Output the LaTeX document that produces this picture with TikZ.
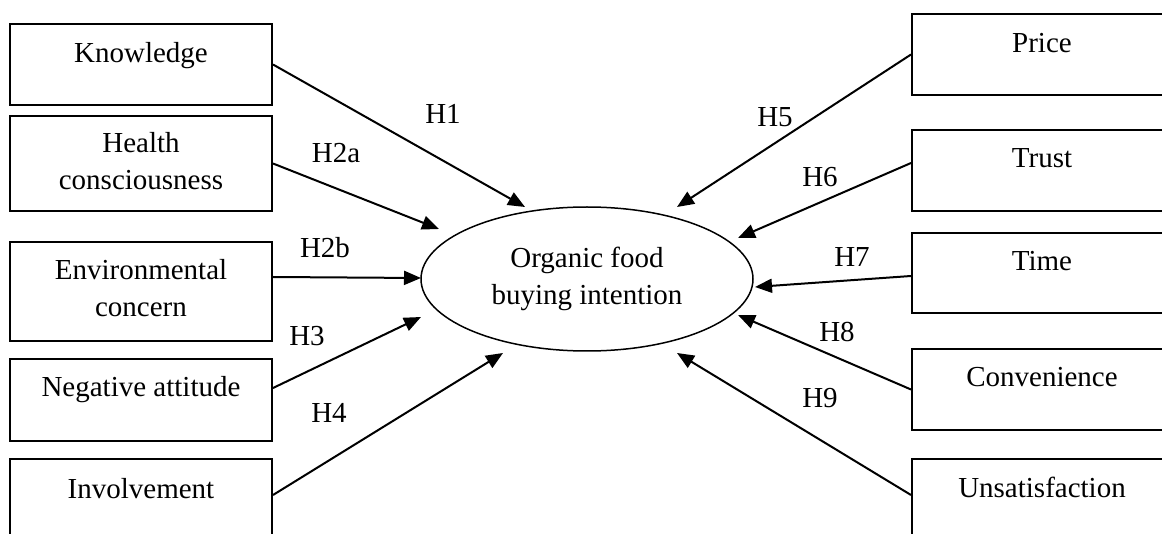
\documentclass[tikz,border=0pt]{standalone}
\usepackage{fontspec}
\setmainfont{Liberation Serif}
\usetikzlibrary{arrows.meta,shapes.geometric,calc}
\begin{document}
\begin{tikzpicture}[x=1pt,y=-1pt,
  every node/.style={font=\fontsize{29pt}{37pt}\selectfont},
  box/.style={draw, line width=2pt, minimum width=262pt, inner sep=0pt},
  txt/.style={anchor=base, inner sep=0pt},
  arr/.style={line width=2pt, -{Triangle[length=17pt,width=14pt]}},
]
\useasboundingbox (0,0) rectangle (1162,534);
\clip (0,0) rectangle (1162,534);

% left boxes
\node[box, minimum height=81pt] (kn) at (141,64.5) {};
\node[box, minimum height=95pt] (hc) at (141,163.5) {};
\node[box, minimum height=99pt] (ec) at (141,291.5) {};
\node[box, minimum height=82pt] (na) at (141,400) {};
\node[box, minimum height=86pt] (iv) at (141,502) {};
% right boxes
\node[box, minimum height=81pt] (pr) at (1043,54.5) {};
\node[box, minimum height=81pt] (tr) at (1043,170.5) {};
\node[box, minimum height=80pt] (ti) at (1043,273) {};
\node[box, minimum height=81pt] (cv) at (1043,389.5) {};
\node[box, minimum height=86pt] (us) at (1043,502) {};

% box texts
\node[txt] (knt) at (141,63) {Knowledge};
\node[txt] (hct1) at (141,153) {Health};
\node[txt] (hct2) at (141,190) {consciousness};
\node[txt] (ect1) at (141,280) {Environmental};
\node[txt] (ect2) at (141,317) {concern};
\node[txt] (nat) at (141,397) {Negative attitude};
\node[txt] (ivt) at (141,498) {Involvement};
\node[txt] (prt) at (1042,53) {Price};
\node[txt] (trt) at (1042,168) {Trust};
\node[txt] (tit) at (1042,271) {Time};
\node[txt] (cvt) at (1042,387) {Convenience};
\node[txt] (ust) at (1042,497) {Unsatisfaction};

% central ellipse
\node[draw, ellipse, line width=1.5pt, minimum width=332pt, minimum height=144pt,
      inner sep=0pt, align=center] (oi) at (587,279) {Organic food\\buying intention};

% arrows
\draw[arr] (kn.east) -- ($(oi.center)+(-62,-72)$);
\draw[arr] (hc.east) -- ($(oi.center)+(-148,-50)$);
\draw[arr] ([yshift=14.5pt]ec.east) -- ($(oi.center)+(-166,-1)$);
\draw[arr] ([yshift=12pt]na.east) -- ($(oi.center)+(-166,38)$);
\draw[arr] ([yshift=7pt]iv.east) -- ($(oi.center)+(-84,74)$);
\draw[arr] (pr.west) -- ($(oi.center)+(90,-72)$);
\draw[arr] ([yshift=7.5pt]tr.west) -- ($(oi.center)+(151,-41)$);
\draw[arr] ([yshift=-3pt]ti.west) -- ($(oi.center)+(168,8)$);
\draw[arr] (cv.west) -- ($(oi.center)+(151,36)$);
\draw[arr] ([yshift=7pt]us.west) -- ($(oi.center)+(90,74)$);

% labels
\node[txt] (l1) at (443,124) {H1};
\node[txt] (l2) at (336,163) {H2a};
\node[txt] (l3) at (325,258) {H2b};
\node[txt] (l4) at (307,346) {H3};
\node[txt] (l5) at (329,423) {H4};
\node[txt] (l6) at (775,127) {H5};
\node[txt] (l7) at (820,187) {H6};
\node[txt] (l8) at (852,267) {H7};
\node[txt] (l9) at (837,342) {H8};
\node[txt] (l10) at (820,407) {H9};
\end{tikzpicture}
\end{document}
